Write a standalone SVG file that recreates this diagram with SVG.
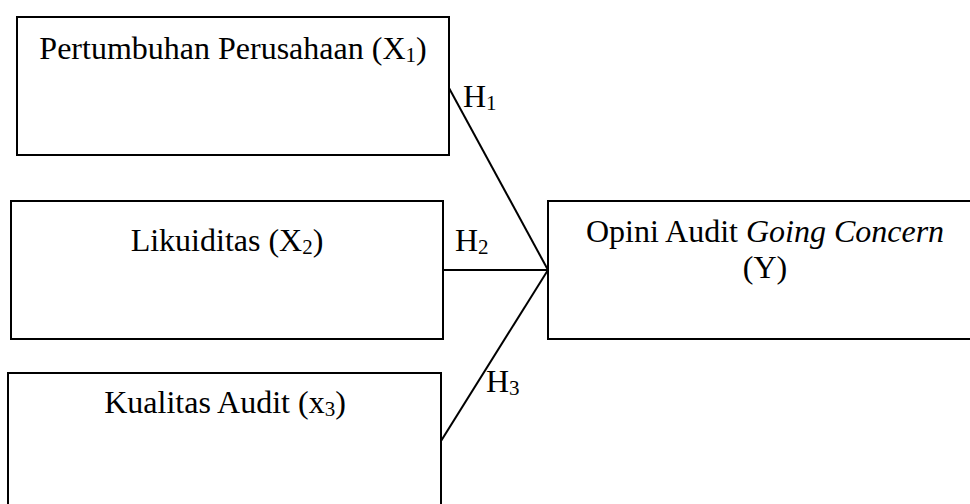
<svg xmlns="http://www.w3.org/2000/svg" width="970" height="504" viewBox="0 0 970 504">
<style>
.box{fill:#fff;stroke:#000;stroke-width:2}
.t{font-family:"Liberation Serif","Times New Roman",serif;font-size:32px;fill:#000}
.c{text-anchor:middle}
.sub{font-size:21px}
.ln{stroke:#000;stroke-width:2;fill:none}
</style>
<rect width="970" height="504" fill="#fff"/>
<g id="x1">
<rect class="box" x="17" y="17" width="432" height="138"/>
<text class="t c" x="233" y="59">Pertumbuhan Perusahaan (X<tspan class="sub" dy="3">1</tspan><tspan dy="-3">)</tspan></text>
</g>
<g id="x2">
<rect class="box" x="11" y="201" width="432" height="138"/>
<text class="t c" x="227" y="251">Likuiditas (X<tspan class="sub" dy="3">2</tspan><tspan dy="-3">)</tspan></text>
</g>
<g id="x3">
<rect class="box" x="8" y="373" width="433" height="140"/>
<text class="t c" x="225" y="413">Kualitas Audit (x<tspan class="sub" dy="3">3</tspan><tspan dy="-3">)</tspan></text>
</g>
<g id="y">
<rect class="box" x="548" y="201" width="440" height="138"/>
<text class="t c" x="765" y="242">Opini Audit <tspan font-style="italic">Going Concern</tspan></text>
<text class="t c" x="765" y="278">(Y)</text>
</g>
<g id="connectors">
<line class="ln" x1="449" y1="88" x2="548" y2="270"/>
<line class="ln" x1="443" y1="270" x2="548" y2="270"/>
<line class="ln" x1="441" y1="441" x2="548" y2="270"/>
<text class="t" x="463" y="107">H<tspan class="sub" dy="3">1</tspan></text>
<text class="t" x="455" y="251">H<tspan class="sub" dy="3">2</tspan></text>
<text class="t" x="486" y="392">H<tspan class="sub" dy="3">3</tspan></text>
</g>
</svg>
